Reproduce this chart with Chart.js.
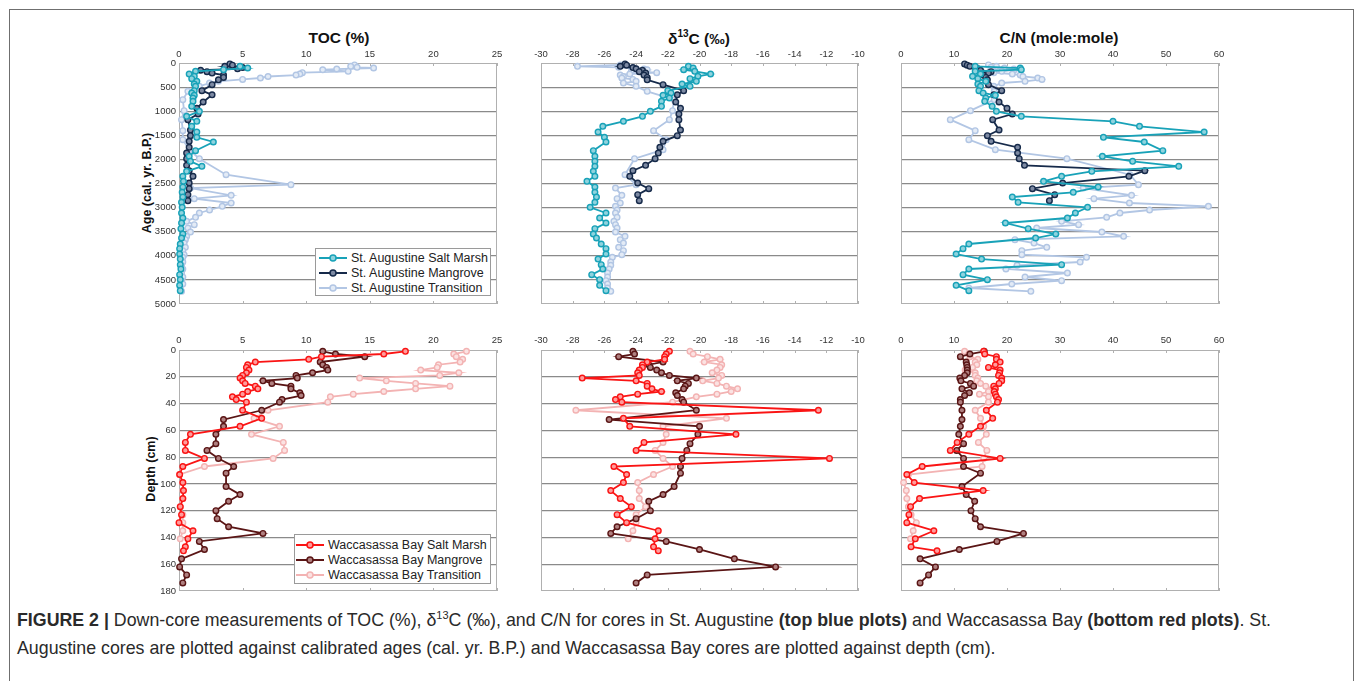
<!DOCTYPE html>
<html>
<head>
<meta charset="utf-8">
<title>Figure 2 - Down-core TOC, d13C and C/N</title>
<script src="https://cdn.jsdelivr.net/npm/chart.js@4.4.1/dist/chart.umd.min.js"></script>
<style>
  body { margin: 0; background: #fff; font-family: "Liberation Sans", Arial, Helvetica, sans-serif; color: #111; }
  #page { position: relative; width: 1355px; height: 681px; overflow: hidden; }
  #frame { position: absolute; left: 9px; top: 9px; width: 1343px; height: 720px; border: 1px solid #6f6f6f; }
  canvas { position: absolute; }
  .ptitle { position: absolute; top: 29px; font-size: 15.5px; font-weight: bold; transform: translateX(-50%); white-space: nowrap; }
  .ptitle sup { font-size: 10px; position: relative; top: -1px; }
  .ytitle { position: absolute; font-size: 12.5px; font-weight: bold; white-space: nowrap; transform: translate(-50%, -50%) rotate(-90deg); }
  .legend { position: absolute; box-sizing: border-box; background: #fff; border: 1px solid #9a9a9a; font-size: 12.5px; z-index: 2; color: #222; }
  .legend div { display: flex; align-items: center; height: 15px; white-space: nowrap; }
  .legend svg { margin-right: 4px; flex: none; }
  #caption { position: absolute; left: 17px; top: 606px; font-size: 17.8px; line-height: 28px; color: #2a2a2a; white-space: nowrap; }
  #caption sup { font-size: 11px; line-height: 0; }
</style>
</head>
<body>
<div id="page">
  <div id="frame"></div>

  <div class="ptitle" style="left:339px">TOC (%)</div>
  <div class="ptitle" style="left:699px">δ<sup>13</sup>C (‰)</div>
  <div class="ptitle" style="left:1059px">C/N (mole:mole)</div>

  <div class="ytitle" style="left:147px; top:183px">Age (cal. yr. B.P.)</div>
  <div class="ytitle" style="left:151px; top:469px">Depth (cm)</div>

  <canvas id="saToc"></canvas>
  <canvas id="saD13c"></canvas>
  <canvas id="saCn"></canvas>
  <canvas id="wbToc"></canvas>
  <canvas id="wbD13c"></canvas>
  <canvas id="wbCn"></canvas>

  <div class="legend" id="saLegend" style="left:315px; top:248px; width:176px; height:48px; padding:1.5px 0 0 3px"></div>
  <div class="legend" id="wbLegend" style="left:294px; top:534px; width:197px; height:50px; padding:2.5px 0 0 1px"></div>

  <div id="caption"><b>FIGURE 2 |</b> Down-core measurements of TOC (%), δ<sup>13</sup>C (‰), and C/N for cores in St. Augustine <b>(top blue plots)</b> and Waccasassa Bay <b>(bottom red plots)</b>. St.<br>Augustine cores are plotted against calibrated ages (cal. yr. B.P.) and Waccasassa Bay cores are plotted against depth (cm).</div>
</div>

<script>
// ---- St. Augustine cores (age, cal. yr. B.P.) ----
const saSaltMarshAge = [69, 104, 138, 173, 228, 277, 325, 380, 436, 484, 574, 622, 671, 726, 795, 899, 1003,
  1107, 1210, 1314, 1432, 1542, 1639, 1819, 1936, 2040, 2144, 2248, 2351, 2455, 2573, 2683, 2780, 2891, 2995,
  3112, 3216, 3320, 3437, 3548, 3631, 3755, 3852, 3963, 4067, 4184, 4274, 4392, 4496, 4613, 4724];
const saSaltMarshToc = [4.8, 5.4, 3.5, 1.3, 0.8, 1.2, 1.0, 1.4, 1.2, 1.3, 1.2, 1.0, 1.2, 1.1, 1.1, 1.0, 1.6,
  0.6, 1.4, 1.0, 1.4, 1.4, 2.7, 1.3, 0.8, 0.9, 1.8, 0.6, 0.3, 0.35, 0.3, 0.25, 0.3, 0.2, 0.25,
  0.2, 0.3, 0.2, 0.15, 0.3, 0.2, 0.1, 0.05, 0.05, 0.1, 0.1, 0.15, 0.05, 0.1, 0.05, 0.1];
const saSaltMarshD13c = [-20.7, -20.4, -21.0, -20.3, -19.3, -20.1, -20.6, -20.2, -21.1, -20.6, -22.0, -21.8, -22.3, -21.9, -22.4, -22.4, -23.1,
  -23.6, -24.8, -26.1, -26.4, -26.0, -25.9, -26.7, -26.6, -26.6, -26.6, -26.7, -26.6, -27.1, -26.6, -26.6, -26.5, -26.6, -26.9,
  -25.9, -26.3, -25.9, -26.6, -26.7, -26.5, -26.2, -25.9, -25.9, -26.4, -26.2, -26.1, -26.8, -26.3, -26.3, -25.9];
const saSaltMarshCn = [14, 22.5, 22.7, 14, 15, 13.5, 14.5, 16, 14.5, 15, 14.7, 15.5, 17.8, 16, 15.8, 17.2, 18,
  22.7, 40, 45, 57.2, 38.2, 45.9, 49.4, 38, 43.7, 52.4, 36, 30.3, 26.9, 37.2, 32.5, 21, 22.1, 35.2,
  32.9, 31.4, 19.7, 24, 29.2, 25.4, 12.8, 11.7, 10.4, 15.2, 30.3, 12.8, 11.7, 16.3, 10.4, 12.8];

const saMangroveAge = [20, 45, 70, 95, 120, 150, 180, 210, 250, 300, 350, 450, 574, 660, 809, 940,
  1058, 1176, 1390, 1508, 1625, 1750, 1867, 1985, 2123, 2234, 2351, 2490, 2607, 2732, 2856];
const saMangroveToc = [4.0, 4.2, 3.6, 5.0, 4.6, 1.7, 2.2, 2.6, 3.5, 3.5, 3.1, 2.6, 1.8, 2.6, 1.9, 1.4,
  1.5, 0.7, 0.9, 0.9, 0.8, 0.8, 0.6, 0.6, 0.6, 0.8, 1.1, 0.8, 0.8, 0.7, 0.7];
const saMangroveD13c = [-24.7, -24.6, -25.0, -24.2, -24.0, -23.6, -23.8, -23.4, -23.5, -23.3, -23.3, -22.3, -21.0, -21.4, -21.5, -21.2,
  -21.3, -21.3, -21.2, -21.4, -22.3, -22.5, -22.6, -22.8, -23.4, -24.2, -24.4, -23.9, -23.2, -23.9, -23.8];
const saMangroveCn = [12, 12.5, 13, 14, 14.5, 15, 17, 16.5, 15.5, 16, 16.3, 16.5, 19, 17.5, 18.5, 20,
  21, 17.3, 18.5, 16.3, 17, 22, 22, 22.3, 23.3, 46, 43, 30.5, 24.8, 29, 28];

const saTransitionAge = [40, 69, 90, 104, 125, 140, 173, 200, 228, 250, 280, 311, 340, 380, 415, 484,
  588, 761, 989, 1176, 1404, 1591, 1798, 1985, 2317, 2524, 2594, 2746, 2815, 2905, 2974, 3050, 3112, 3202,
  3285, 3354, 3423, 3506, 3596, 3666, 3735, 3825, 3894, 3977, 4032, 4129, 4198, 4274, 4357, 4440, 4516, 4585, 4668, 4737];
const saTransitionToc = [13.8, 13.5, 14.0, 15.3, 12.4, 11.3, 13.3, 9.7, 9.5, 9.2, 7.0, 6.4, 5.0, 3.1, 2.4, 1.6,
  0.7, 0.3, 0.4, 0.2, 0.3, 0.3, 0.8, 1.6, 3.7, 8.8, 0.9, 4.1, 1.2, 4.1, 3.4, 2.4, 1.6, 1.3,
  0.6, 1.2, 0.7, 0.9, 0.6, 0.5, 0.4, 0.5, 0.3, 0.4, 0.3, 0.3, 0.2, 0.3, 0.2, 0.3, 0.2, 0.3, 0.1, 0.2];
const saTransitionD13c = [-25.0, -27.7, -25.1, -24.2, -23.5, -23.3, -24.3, -22.7, -24.4, -25.0, -24.8, -24.9, -24.2, -24.0, -24.8, -24.0,
  -23.3, -21.6, -21.7, -21.9, -22.9, -22.1, -22.3, -24.1, -24.7, -24.0, -25.3, -24.9, -25.2, -25.0, -25.3, -25.2, -25.3, -25.2,
  -25.4, -25.3, -25.2, -25.3, -24.7, -25.0, -24.8, -25.1, -24.8, -24.9, -25.5, -25.6, -25.6, -25.7, -25.8, -25.8, -25.9, -25.8, -25.8, -25.6];
const saTransitionCn = [16.5, 18, 17, 19.5, 21.3, 21.4, 19, 17.5, 21, 22.5, 23, 25.8, 26.6, 23.4, 19, 17.5,
  17.6, 17.6, 13.1, 9.3, 14, 12.8, 17.8, 31.3, 43.2, 44.8, 34.4, 43.5, 36.4, 43.1, 58, 46.9, 41.3, 38.8,
  30.3, 33.5, 25.6, 37.9, 42, 21.5, 25.1, 27.5, 22.8, 22.8, 35, 33.8, 21.9, 19.8, 31.4, 23.4, 30.3, 20.9, 12.8, 24.5];

// ---- Waccasassa Bay cores (depth, cm) ----
const wbSaltMarshDepth = [1, 3, 5, 7, 9, 11, 13, 15, 17, 19, 21, 23, 25, 27, 29, 31, 33, 35, 37, 39,
  45, 51, 57, 63, 69, 75, 81, 87, 93, 99, 105, 111, 117, 123, 129, 135, 141, 147, 150];
const wbSaltMarshToc = [17.8, 16.1, 11.2, 10.2, 6.0, 5.4, 5.3, 5.5, 5.3, 5.0, 4.8, 5.0, 5.2, 6.0, 6.2, 5.4, 5.0, 4.2, 4.5, 5.3,
  5.0, 6.5, 4.8, 0.9, 0.5, 0.5, 2.0, 0.3, 0.05, 0.3, 0.35, 0.3, 0.1, 0.2, 0.0, 1.1, 0.7, 0.5, 0.35];
const wbSaltMarshD13c = [-21.9, -22.1, -22.2, -22.2, -23.3, -23.6, -23.6, -23.8, -23.9, -23.8, -27.4, -24.0, -23.3, -23.3, -23.0, -22.4, -23.9, -25.0, -25.3, -24.9,
  -12.5, -24.8, -24.4, -17.7, -23.5, -24.0, -11.8, -25.4, -24.6, -24.8, -25.6, -25.0, -24.3, -25.2, -24.6, -22.6, -22.8, -22.9, -22.6];
const wbSaltMarshCn = [15.6, 15.8, 18, 18, 18.7, 17.8, 16.5, 18.7, 18.6, 18.4, 19, 19, 18.5, 17.5, 17.8, 17.6, 17.8, 18, 18.4, 18.2,
  16.1, 17.3, 15, 12.8, 10.6, 9.3, 18.7, 4.0, 1.1, 2.5, 15.5, 3.5, 1.8, 1.5, 1.1, 6.2, 2.7, 1.9, 6.8];

const wbMangroveDepth = [1, 3, 5, 9, 11, 13, 15, 17, 19, 21, 23, 25, 27, 29, 32, 34, 37, 39, 45, 52,
  57, 63, 70, 75, 81, 87, 92, 102, 108, 113, 120, 126, 132, 137, 143, 149, 156, 162, 168, 174];
const wbMangroveToc = [11.3, 12.3, 14.6, 11.1, 11.3, 11.6, 11.7, 10.5, 9.2, 9.3, 6.6, 7.3, 8.8, 8.8, 9.5, 9.6, 8.1, 7.9, 6.5, 3.5,
  3.5, 2.9, 2.9, 2.2, 3.1, 4.3, 3.7, 3.7, 4.8, 3.9, 2.9, 3.0, 3.9, 6.6, 1.6, 2.0, 0.2, 0.05, 0.6, 0.3];
const wbMangroveD13c = [-24.2, -24.1, -25.1, -22.3, -23.2, -23.1, -22.7, -22.4, -21.9, -20.2, -21.4, -20.7, -20.9, -21.0, -21.5, -21.4, -21.1, -21.0, -20.2, -25.7,
  -20.0, -20.1, -20.6, -20.8, -21.1, -21.2, -21.2, -21.6, -22.3, -23.2, -23.1, -24.0, -25.2, -25.6, -22.1, -20.0, -17.8, -15.2, -23.3, -24.0];
const wbMangroveCn = [15.7, 13, 11.2, 12.3, 12.4, 12.5, 12.5, 12.5, 12, 11.1, 11.3, 13.1, 13.7, 11.5, 12.9, 12, 11.2, 11.2, 11.5, 11.5,
  11.2, 10.9, 11.8, 10.5, 11.8, 11.8, 15.0, 11.5, 12.3, 13.9, 13.2, 14.0, 15.0, 23.1, 18.1, 11, 3.6, 6.5, 5.2, 3.6];

const wbTransitionDepth = [1, 3, 5, 7, 9, 11, 13, 15, 17, 19, 21, 23, 25, 27, 29, 31, 33, 35,
  39, 45, 51, 57, 63, 69, 75, 81, 87, 93, 99, 105, 111, 117, 123, 129, 135, 141];
const wbTransitionToc = [22.6, 21.6, 21.8, 22.3, 22.1, 20.4, 20.3, 19.0, 22.0, 20.5, 14.2, 16.3, 18.6, 21.3, 18.6, 16.1, 13.7, 11.9,
  11.7, 7.0, 5.9, 7.9, 5.7, 8.2, 8.3, 7.4, 2.0, 0.05, 0.3, 0.3, 0.3, 0.1, 0.3, 0.3, 0.3, 0.1];
const wbTransitionD13c = [-20.6, -20.4, -19.5, -18.7, -19.7, -18.6, -18.7, -18.9, -19.2, -18.6, -18.8, -19.8, -18.9, -18.3, -17.6, -18.0, -18.9, -20.2,
  -21.7, -27.8, -18.3, -22.3, -22.1, -22.3, -22.8, -22.3, -21.7, -22.9, -23.9, -23.8, -23.8, -23.4, -24.0, -24.0, -24.2, -24.5];
const wbTransitionCn = [12, 12.8, 13, 14.5, 14, 14.3, 13.5, 12.1, 14, 14, 14.5, 14.3, 15, 16, 17.5, 16.5, 14.8, 16.5,
  16.5, 14, 15, 15.6, 16.1, 14.6, 16.2, 15.6, 15.3, 1.4, 0.5, 1.0, 1.1, 1.4, 1.9, 2.9, 2.3, 1.8];

// ---- axis ticks ----
const tocTicks = [0, 5, 10, 15, 20, 25];
const d13cTicks = [-30, -28, -26, -24, -22, -20, -18, -16, -14, -12, -10];
const cnTicks = [0, 10, 20, 30, 40, 50, 60];
const ageTicks = [0, 500, 1000, 1500, 2000, 2500, 3000, 3500, 4000, 4500, 5000];
const depthTicks = [0, 20, 40, 60, 80, 100, 120, 140, 160, 180];

const saLabels = ['St. Augustine Salt Marsh', 'St. Augustine Mangrove', 'St. Augustine Transition'];
const wbLabels = ['Waccasassa Bay Salt Marsh', 'Waccasassa Bay Mangrove', 'Waccasassa Bay Transition'];

// colours: line colour + lighter marker fill
const saColors = ['#18a2b8', '#162a4a', '#b2c6e4'];
const saFills = ['#8fd3de', '#7d8aa3', '#e3ebf6'];
const wbColors = ['#fa1414', '#5a1515', '#f3b3b3'];
const wbFills = ['#ff9c9c', '#b08080', '#fbe2e2'];

// frame geometry (plot area of each panel)
const PAD_L = 40, PAD_T = 22, PAD_R = 14, PAD_B = 8;
const COLS = [{ x: 179, w: 318 }, { x: 541, w: 317 }, { x: 901, w: 318 }];
const ROWS = [{ y: 63, h: 241, labelPad: 3 }, { y: 350, h: 241, labelPad: 4 }];

Chart.defaults.font.family = '"Liberation Sans", Arial, Helvetica, sans-serif';

// draws the light grey plot frame plus the small x tick marks
const frameBox = {
    id: 'frameBox',
    beforeDatasetsDraw(chart) {
        const a = chart.chartArea;
        const ctx = chart.ctx;
        const xs = chart.scales.x;
        ctx.save();
        ctx.strokeStyle = '#b0b0b0';
        ctx.lineWidth = 1;
        ctx.strokeRect(Math.round(a.left) + 0.5, Math.round(a.top) + 0.5, Math.round(a.width) - 1, Math.round(a.height) - 1);
        ctx.beginPath();
        xs.ticks.forEach(function (t) {
            const px = Math.round(xs.getPixelForValue(t.value)) + 0.5;
            ctx.moveTo(px, a.top);
            ctx.lineTo(px, a.top + 3);
            ctx.moveTo(px, a.bottom);
            ctx.lineTo(px, a.bottom - 3);
        });
        ctx.stroke();
        ctx.restore();
    }
};

function makeSeries(labels, colors, fills, depths, values) {
    return labels.map(function (label, i) {
        return { label: label, color: colors[i], fill: fills[i], depth: depths[i], values: values[i] };
    });
}

function drawPanel(canvasId, col, row, xTicks, yTicks, series, showYLabels) {
    const canvas = document.getElementById(canvasId);
    canvas.width = col.w + PAD_L + PAD_R;
    canvas.height = row.h + PAD_T + PAD_B;
    canvas.style.left = (col.x - PAD_L) + 'px';
    canvas.style.top = (row.y - PAD_T) + 'px';

    const datasets = series.map(function (s) {
        return {
            label: s.label,
            data: s.values.map(function (v, i) { return { x: v, y: s.depth[i] }; }),
            showLine: true,
            borderColor: s.color,
            backgroundColor: s.color,
            borderWidth: 1.8,
            pointRadius: 2.8,
            pointBorderWidth: 1.4,
            pointBorderColor: s.color,
            pointBackgroundColor: s.fill,
            clip: false
        };
    });

    return new Chart(canvas, {
        type: 'scatter',
        data: { datasets: datasets },
        options: {
            responsive: false,
            animation: false,
            events: [],
            layout: { padding: { left: 0, top: 0, right: PAD_R, bottom: PAD_B } },
            plugins: { legend: { display: false }, tooltip: { enabled: false } },
            scales: {
                x: {
                    type: 'linear',
                    position: 'top',
                    min: xTicks[0],
                    max: xTicks[xTicks.length - 1],
                    ticks: {
                        stepSize: xTicks[1] - xTicks[0],
                        autoSkip: false,
                        maxRotation: 0,
                        padding: row.labelPad,
                        color: '#333',
                        font: { size: 9.5 },
                        callback: function (v) { return String(v); }
                    },
                    grid: { display: false, drawTicks: false },
                    border: { display: false },
                    afterFit: function (s) { s.height = PAD_T; s.paddingLeft = 0; s.paddingRight = 0; }
                },
                y: {
                    type: 'linear',
                    reverse: true,
                    min: yTicks[0],
                    max: yTicks[yTicks.length - 1],
                    ticks: {
                        stepSize: yTicks[1] - yTicks[0],
                        autoSkip: false,
                        display: showYLabels,
                        padding: 3,
                        color: '#333',
                        font: { size: 9.5 },
                        callback: function (v) { return String(v); }
                    },
                    grid: {
                        drawTicks: false,
                        lineWidth: 1.2,
                        color: function (c) {
                            const last = c.scale.ticks.length - 1;
                            return (c.index === 0 || c.index === last) ? 'rgba(0,0,0,0)' : '#8a8a8a';
                        }
                    },
                    border: { display: false },
                    afterFit: function (s) { s.width = PAD_L; s.paddingTop = 0; s.paddingBottom = 0; }
                }
            }
        },
        plugins: [frameBox]
    });
}

// html legend built from the series list
function buildLegend(elId, series) {
    const el = document.getElementById(elId);
    series.forEach(function (s) {
        const row = document.createElement('div');
        row.innerHTML =
            '<svg width="28" height="10"><line x1="0" y1="5" x2="28" y2="5" stroke="' + s.color + '" stroke-width="2"/>' +
            '<circle cx="14" cy="5" r="3" fill="' + s.fill + '" stroke="' + s.color + '" stroke-width="1.5"/></svg>' +
            '<span>' + s.label + '</span>';
        el.appendChild(row);
    });
}

const saAges = [saSaltMarshAge, saMangroveAge, saTransitionAge];
const wbDepths = [wbSaltMarshDepth, wbMangroveDepth, wbTransitionDepth];

const saTocSeries = makeSeries(saLabels, saColors, saFills, saAges, [saSaltMarshToc, saMangroveToc, saTransitionToc]);
const saD13cSeries = makeSeries(saLabels, saColors, saFills, saAges, [saSaltMarshD13c, saMangroveD13c, saTransitionD13c]);
const saCnSeries = makeSeries(saLabels, saColors, saFills, saAges, [saSaltMarshCn, saMangroveCn, saTransitionCn]);
const wbTocSeries = makeSeries(wbLabels, wbColors, wbFills, wbDepths, [wbSaltMarshToc, wbMangroveToc, wbTransitionToc]);
const wbD13cSeries = makeSeries(wbLabels, wbColors, wbFills, wbDepths, [wbSaltMarshD13c, wbMangroveD13c, wbTransitionD13c]);
const wbCnSeries = makeSeries(wbLabels, wbColors, wbFills, wbDepths, [wbSaltMarshCn, wbMangroveCn, wbTransitionCn]);

drawPanel('saToc', COLS[0], ROWS[0], tocTicks, ageTicks, saTocSeries, true);
drawPanel('saD13c', COLS[1], ROWS[0], d13cTicks, ageTicks, saD13cSeries, false);
drawPanel('saCn', COLS[2], ROWS[0], cnTicks, ageTicks, saCnSeries, false);
drawPanel('wbToc', COLS[0], ROWS[1], tocTicks, depthTicks, wbTocSeries, true);
drawPanel('wbD13c', COLS[1], ROWS[1], d13cTicks, depthTicks, wbD13cSeries, false);
drawPanel('wbCn', COLS[2], ROWS[1], cnTicks, depthTicks, wbCnSeries, false);

buildLegend('saLegend', saTocSeries);
buildLegend('wbLegend', wbTocSeries);
</script>
</body>
</html>
